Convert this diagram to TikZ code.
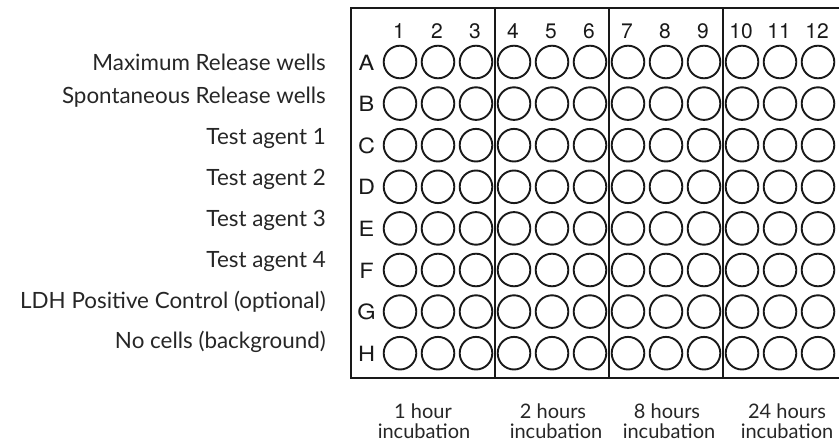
\documentclass[tikz,border=0pt]{standalone}
\usepackage{fontspec}
\setmainfont{Lato}
\newfontfamily\platefont{TeX Gyre Heros}
\newfontfamily\rowfont[FakeStretch=1.12]{TeX Gyre Heros}
\begin{document}
\begin{tikzpicture}[x=1pt,y=-1pt,
  well/.style={draw=black!90,line width=1.9pt,circle,minimum size=32.6pt,inner sep=0pt},
  platebox/.style={draw=black!90,line width=2pt},
  divider/.style={draw=black!90,line width=2pt},
  collab/.style={font=\platefont\fontsize{21}{23}\selectfont,anchor=base,inner sep=0pt,text=black!90},
  rowlab/.style={font=\rowfont\fontsize{21}{23}\selectfont,anchor=base,inner sep=0pt,text=black!90},
  desc/.style={font=\fontsize{22.4}{25}\selectfont,anchor=base east,inner sep=0pt,text=black!85},
  timelab/.style={font=\fontsize{20}{23}\selectfont,anchor=base,inner sep=0pt,text=black!85}]
\useasboundingbox (0,0) rectangle (839,441);
\begin{scope}
\clip (0,0) rectangle (839,441);
\coordinate (tl) at (351,8);
\coordinate (br) at (850,378);
\draw[platebox] (tl) rectangle (br);
\foreach \x [count=\i] in {495,609,723}{
  \coordinate (dt\i) at (\x,8);
  \coordinate (db\i) at (\x,378);
  \draw[divider] (dt\i) -- (db\i);
}
\foreach \r [count=\j] in {A,B,C,D,E,F,G,H}{
  \pgfmathsetmacro{\yy}{62+41.6*(\j-1)}
  \node[rowlab] (row\r) at (366.5,\yy+8.2) {\r};
  \foreach \c in {1,...,12}{
    \node[well] (w\r\c) at ({400+38*(\c-1)},\yy) {};
  }
}
\foreach \c in {1,...,12}{
  \node[collab] (col\c) at ({400+38*(\c-1)-1},38.3) {\c};
}
\end{scope}
\node[desc] (d1) at (326,71) {Maximum Release wells};
\node[desc] (d2) at (326,104) {Spontaneous Release wells};
\node[desc] (d3) at (326,145) {Test agent 1};
\node[desc] (d4) at (326,186) {Test agent 2};
\node[desc] (d5) at (326,226.5) {Test agent 3};
\node[desc] (d6) at (326,267) {Test agent 4};
\node[desc] (d7) at (326,308) {LDH Positive Control (optional)};
\node[desc] (d8) at (326,348.5) {No cells (background)};
\node[timelab] (t1a) at (423,418) {1 hour};
\node[timelab] (t1b) at (424,438) {incubation};
\node[timelab] (t2a) at (553,418) {2 hours};
\node[timelab] (t2b) at (556,438) {incubation};
\node[timelab] (t3a) at (667,418) {8 hours};
\node[timelab] (t3b) at (669,438) {incubation};
\node[timelab] (t4a) at (787,418) {24 hours};
\node[timelab] (t4b) at (787,438) {incubation};
\end{tikzpicture}
\end{document}
